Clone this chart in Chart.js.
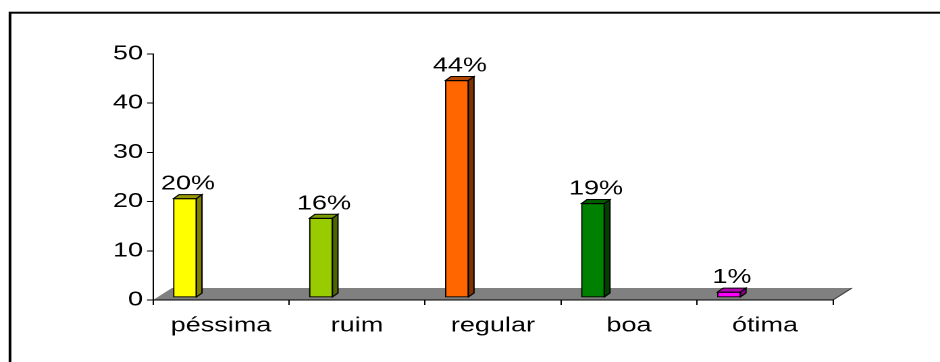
<!DOCTYPE html>
<html>
<head>
<meta charset="utf-8">
<script src="https://cdn.jsdelivr.net/npm/chart.js@4/dist/chart.umd.min.js"></script>
<style>
  html, body { margin: 0; padding: 0; background: #fff; overflow: hidden; }
  #wrap {
    position: absolute; left: 0; top: 0;
    width: 696px; height: 362px;
    transform: scaleX(1.35057); transform-origin: 0 0;
  }
</style>
</head>
<body>
<div id="wrap"><canvas id="qualityChart" width="696" height="362"></canvas></div>
<script>
// values
const categories = ['péssima', 'ruim', 'regular', 'boa', 'ótima'];
const percentValues = [20, 16, 44, 19, 1];
const yTickValues = [0, 10, 20, 30, 40, 50];

// colours of the front, top and side faces
const frontColors = ['#FFFF00', '#99CC00', '#FF6600', '#008000', '#FF00FF'];
const topColors = ['#999900', '#7A9E00', '#B34700', '#005A00', '#B300B3'];
const sideColors = ['#808000', '#4D6600', '#803300', '#004000', '#800080'];

const FONT = { family: "'Liberation Sans', Arial, sans-serif", size: 20 };
const DEPTH = { floorDx: 14.07, floorDy: -12, barDx: 4.1, barDy: -4 };

const frame3d = {
    id: 'frame3d',
    beforeDraw(chart) {
        const { ctx, chartArea: a } = chart;
        ctx.save();
        // outer frame (only top and left are inside the window)
        ctx.strokeStyle = '#000';
        ctx.lineWidth = 2;
        ctx.strokeRect(7.4, 12.7, 900, 500);
        // grey floor
        ctx.beginPath();
        ctx.moveTo(a.left, a.bottom);
        ctx.lineTo(a.right, a.bottom);
        ctx.lineTo(a.right + DEPTH.floorDx, a.bottom + DEPTH.floorDy);
        ctx.lineTo(a.left + DEPTH.floorDx, a.bottom + DEPTH.floorDy);
        ctx.closePath();
        ctx.fillStyle = '#808080';
        ctx.fill();
        ctx.beginPath();
        ctx.moveTo(a.right, a.bottom);
        ctx.lineTo(a.right + DEPTH.floorDx, a.bottom + DEPTH.floorDy);
        ctx.strokeStyle = '#404040';
        ctx.lineWidth = 1;
        ctx.stroke();
        ctx.restore();
    },
    afterDatasetsDraw(chart) {
        const { ctx } = chart;
        const meta = chart.getDatasetMeta(0);
        ctx.save();
        ctx.lineWidth = 1;
        ctx.strokeStyle = '#000';
        meta.data.forEach((bar, i) => {
            const half = bar.width / 2;
            const l = bar.x - half, r = bar.x + half;
            const t = bar.y, b = bar.base;
            const dx = DEPTH.barDx, dy = DEPTH.barDy;
            // top face
            ctx.beginPath();
            ctx.moveTo(l, t);
            ctx.lineTo(r, t);
            ctx.lineTo(r + dx, t + dy);
            ctx.lineTo(l + dx, t + dy);
            ctx.closePath();
            ctx.fillStyle = topColors[i];
            ctx.fill();
            ctx.stroke();
            // side face
            ctx.beginPath();
            ctx.moveTo(r, t);
            ctx.lineTo(r + dx, t + dy);
            ctx.lineTo(r + dx, b + dy);
            ctx.lineTo(r, b);
            ctx.closePath();
            ctx.fillStyle = sideColors[i];
            ctx.fill();
            ctx.stroke();
            // value label
            ctx.fillStyle = '#000';
            ctx.font = `${FONT.size}px ${FONT.family}`;
            ctx.textAlign = 'center';
            ctx.textBaseline = 'alphabetic';
            ctx.fillText(percentValues[i] + '%', bar.x + 2.2, t - 9);
        });
        ctx.restore();
    }
};

const ctx = document.getElementById('qualityChart').getContext('2d');

new Chart(ctx, {
    type: 'bar',
    data: {
        labels: categories,
        datasets: [{
            label: 'avaliação',
            data: percentValues.map((v, i) => ({ x: i, y: v })),
            xAxisID: 'xb',
            yAxisID: 'yb',
            backgroundColor: frontColors,
            borderColor: '#000',
            borderWidth: 1,
            barThickness: 17,
            borderSkipped: false
        }]
    },
    options: {
        responsive: false,
        animation: false,
        devicePixelRatio: 2,
        layout: { padding: { left: 0, right: 79.22, top: 54, bottom: 0 } },
        plugins: {
            legend: { display: false },
            tooltip: { enabled: false }
        },
        scales: {
            x: {
                type: 'category',
                position: 'bottom',
                offset: true,
                grid: { offset: true, drawOnChartArea: false, color: '#000', tickLength: 5 },
                border: { display: true, color: '#000', width: 1 },
                ticks: { color: '#000', font: FONT, padding: 9, maxRotation: 0 },
                afterFit: (s) => { s.height = 62; }
            },
            y: {
                type: 'linear',
                position: 'left',
                min: 0,
                max: 50,
                afterBuildTicks: (s) => { s.ticks = yTickValues.map(v => ({ value: v })); },
                grid: { drawOnChartArea: false, color: '#000', tickLength: 4.4 },
                border: { display: true, color: '#000', width: 1 },
                ticks: { color: '#000', font: FONT, padding: 3 },
                afterFit: (s) => { s.width = 113.28; }
            },
            xb: { type: 'linear', display: false, offset: false, min: -0.235, max: 4.765 },
            yb: { type: 'linear', display: false, min: -0.61, max: 49.39 }
        }
    },
    plugins: [frame3d]
});
</script>
</body>
</html>
